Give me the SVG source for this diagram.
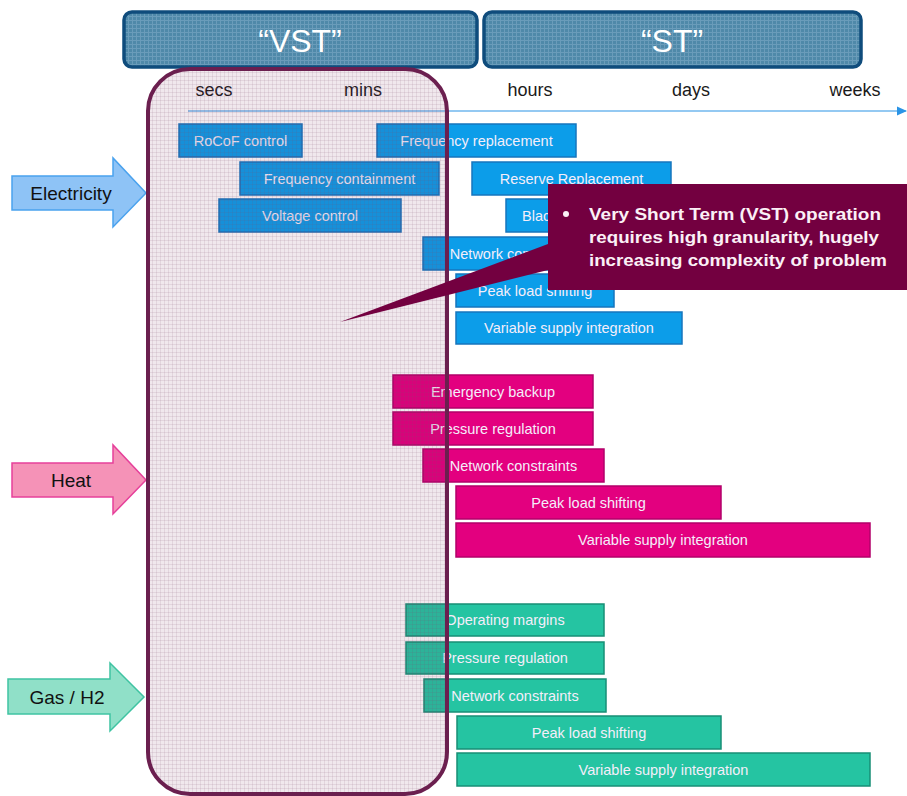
<svg xmlns="http://www.w3.org/2000/svg" width="907" height="796" viewBox="0 0 907 796">
<defs>
<style>
.hdr{fill:#4f89a9;stroke:#0f4c7c;stroke-width:3.5}
.hdrt{font-family:"Liberation Sans",Arial,sans-serif;font-size:32px;fill:#ffffff;text-anchor:middle}
.time{font-family:"Liberation Sans",Arial,sans-serif;font-size:18px;fill:#1a1a1a;text-anchor:middle}
.lbl{font-family:"Liberation Sans",Arial,sans-serif;font-size:19px;fill:#111111;text-anchor:middle}
.bt{font-family:"Liberation Sans",Arial,sans-serif;font-size:14.5px;fill:#f4eefa;text-anchor:middle}
.el{fill:#0c9de9;stroke:#1676bd;stroke-width:1.5}
.ht{fill:#e3007f;stroke:#b3006a;stroke-width:1.5}
.gs{fill:#25c4a2;stroke:#178f76;stroke-width:1.5}
.co{font-family:"Liberation Sans",Arial,sans-serif;font-size:16.5px;font-weight:bold;fill:#fbf0f6}
</style>
<pattern id="grid" width="4" height="4" patternUnits="userSpaceOnUse">
<rect width="4" height="4" fill="#6b1f4f" fill-opacity="0.1"/>
<path d="M0 0.5H4M0.5 0V4" stroke="#7a4a6a" stroke-opacity="0.12" stroke-width="1"/>
</pattern>
<pattern id="hgrid" width="4" height="4" patternUnits="userSpaceOnUse">
<rect width="4" height="4" fill="#4f89a9"/>
<path d="M0 0.5H4M0.5 0V4" stroke="#6a9cba" stroke-width="1"/>
</pattern>
<clipPath id="blackclip"><rect x="500" y="195" width="48" height="40"/></clipPath>
<marker id="ah" markerWidth="10" markerHeight="10" refX="9" refY="5" orient="auto" markerUnits="userSpaceOnUse">
<path d="M0 0.5L10 5L0 9.5Z" fill="#2a94e6"/>
</marker>
</defs>

<g id="vst-header">
<rect x="124" y="12" width="353" height="55" rx="8" class="hdr" style="fill:url(#hgrid)"/>
<text x="300" y="52" class="hdrt">“VST”</text>
</g>
<g id="st-header">
<rect x="484" y="12" width="377" height="55" rx="8" class="hdr" style="fill:url(#hgrid)"/>
<text x="672" y="52" class="hdrt">“ST”</text>
</g>

<g id="timeline">
<text x="214" y="96" class="time">secs</text>
<text x="363" y="96" class="time">mins</text>
<text x="530" y="96" class="time">hours</text>
<text x="691" y="96" class="time">days</text>
<text x="855" y="96" class="time">weeks</text>
<line x1="188" y1="111" x2="906" y2="111" stroke="#2a94e6" stroke-width="1.2" marker-end="url(#ah)"/>
</g>

<g id="electricity">
<path d="M12 176H113V158L146 193L113 227V210H12Z" fill="#8ec3f6" stroke="#4aa2ee" stroke-width="1.5"/>
<text x="71" y="200" class="lbl">Electricity</text>
</g>
<g id="heat">
<path d="M12 463H113V445L146 480L113 514V497H12Z" fill="#f592b7" stroke="#e6409a" stroke-width="1.5"/>
<text x="71" y="487" class="lbl">Heat</text>
</g>
<g id="gas">
<path d="M8 679H110V663L144 697L110 731V714H8Z" fill="#90e0c8" stroke="#3fc3a2" stroke-width="1.5"/>
<text x="67" y="704" class="lbl">Gas / H2</text>
</g>

<g id="elec-rocof"><rect x="179" y="124" width="123" height="33" class="el"/><text x="240.5" y="146" class="bt">RoCoF control</text></g>
<g id="elec-freq-repl"><rect x="377" y="124" width="199" height="33" class="el"/><text x="476.5" y="146" class="bt">Frequency replacement</text></g>
<g id="elec-freq-cont"><rect x="240" y="162" width="199" height="33" class="el"/><text x="339.5" y="184" class="bt">Frequency containment</text></g>
<g id="elec-reserve"><rect x="472" y="162" width="199" height="33" class="el"/><text x="571.5" y="184" class="bt">Reserve Replacement</text></g>
<g id="elec-voltage"><rect x="219" y="199" width="182" height="33" class="el"/><text x="310" y="221" class="bt">Voltage control</text></g>
<g id="elec-black"><rect x="506" y="199" width="100" height="33" class="el"/><text x="522" y="221" class="bt" style="text-anchor:start" clip-path="url(#blackclip)">Blac</text></g>
<g id="elec-network"><rect x="423" y="237" width="181" height="33" class="el"/><text x="513.5" y="259" class="bt">Network constraints</text></g>
<g id="elec-peak"><rect x="456" y="274" width="158" height="33" class="el"/><text x="535" y="296" class="bt">Peak load shifting</text></g>
<g id="elec-var"><rect x="456" y="312" width="226" height="32" class="el"/><text x="569" y="333" class="bt">Variable supply integration</text></g>

<g id="heat-emergency"><rect x="393" y="375" width="200" height="33" class="ht"/><text x="493" y="397" class="bt">Emergency backup</text></g>
<g id="heat-pressure"><rect x="393" y="412" width="200" height="33" class="ht"/><text x="493" y="434" class="bt">Pressure regulation</text></g>
<g id="heat-network"><rect x="423" y="449" width="181" height="33" class="ht"/><text x="513.5" y="471" class="bt">Network constraints</text></g>
<g id="heat-peak"><rect x="456" y="486" width="265" height="33" class="ht"/><text x="588.5" y="508" class="bt">Peak load shifting</text></g>
<g id="heat-var"><rect x="456" y="523" width="414" height="34" class="ht"/><text x="663" y="545" class="bt">Variable supply integration</text></g>

<g id="gas-operating"><rect x="406" y="604" width="198" height="32" class="gs"/><text x="505" y="625" class="bt">Operating margins</text></g>
<g id="gas-pressure"><rect x="406" y="642" width="198" height="32" class="gs"/><text x="505" y="663" class="bt">Pressure regulation</text></g>
<g id="gas-network"><rect x="424" y="679" width="182" height="33" class="gs"/><text x="515" y="701" class="bt">Network constraints</text></g>
<g id="gas-peak"><rect x="457" y="716" width="264" height="33" class="gs"/><text x="589" y="738" class="bt">Peak load shifting</text></g>
<g id="gas-var"><rect x="457" y="753" width="413" height="33" class="gs"/><text x="663.5" y="775" class="bt">Variable supply integration</text></g>

<g id="vst-window">
<rect x="148" y="69" width="299" height="725" rx="42" fill="url(#grid)" stroke="#6b1f4f" stroke-width="4"/>
</g>

<g id="callout">
<path d="M548 244L340 322L548 270Z" fill="#730040"/>
<rect x="548" y="184" width="365" height="106" fill="#730040"/>
<circle cx="566" cy="214" r="3" fill="#fbf0f6"/>
<text x="589" y="220" class="co" textLength="292" lengthAdjust="spacingAndGlyphs">Very Short Term (VST) operation</text>
<text x="589" y="243" class="co" textLength="290" lengthAdjust="spacingAndGlyphs">requires high granularity, hugely</text>
<text x="589" y="266" class="co" textLength="298" lengthAdjust="spacingAndGlyphs">increasing complexity of problem</text>
</g>
</svg>
